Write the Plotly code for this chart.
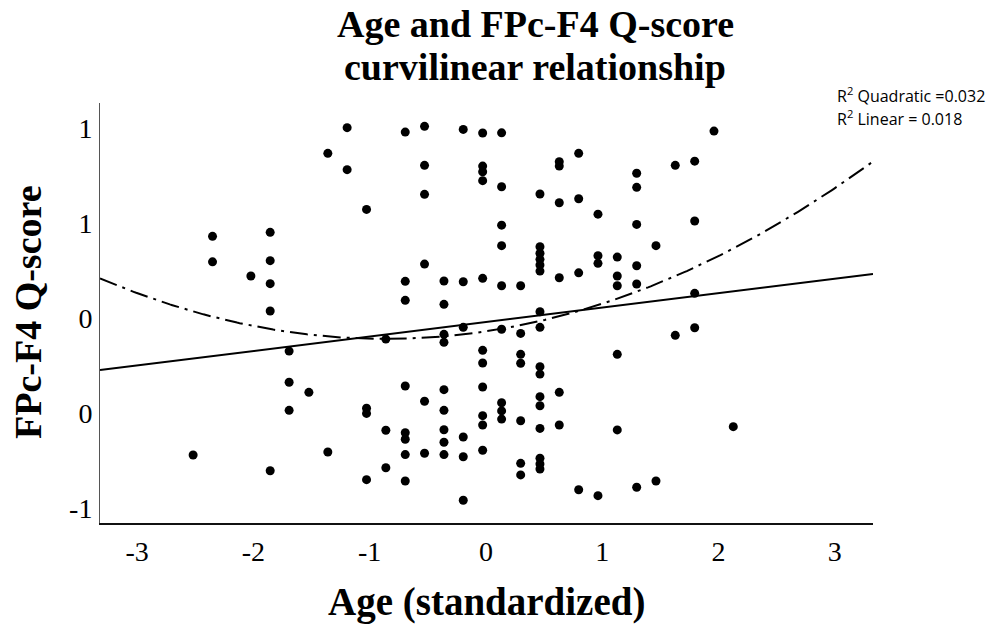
import numpy as np
import plotly.graph_objects as go

# ---- data ----
age_std = (
    [-2.519]
    + [-2.352] * 2
    + [-2.022]
    + [-1.856] * 5
    + [-1.693] * 3
    + [-1.523]
    + [-1.360] * 2
    + [-1.194] * 2
    + [-1.027] * 4
    + [-0.861] * 3
    + [-0.694] * 8
    + [-0.528] * 6
    + [-0.361] * 9
    + [-0.195] * 6
    + [-0.028] * 11
    + [0.135] * 9
    + [0.299] * 7
    + [0.465] * 16
    + [0.631] * 6
    + [0.798] * 4
    + [0.964] * 4
    + [1.130] * 5
    + [1.297] * 6
    + [1.463] * 2
    + [1.629] * 2
    + [1.796] * 4
    + [1.962]
    + [2.128]
)

fpc_f4_score = [
    -0.721,
    0.430, 0.296,
    0.221,
    0.451, 0.302, 0.181, 0.037, -0.804,
    -0.174, -0.338, -0.486,
    -0.391,
    0.867, -0.705,
    1.002, 0.781,
    0.572, -0.475, -0.502, -0.851,
    -0.111, -0.591, -0.788,
    0.979, 0.193, 0.093, -0.358, -0.604, -0.638, -0.719, -0.858,
    1.009, 0.804, 0.651, 0.284, -0.438, -0.712,
    0.195, 0.072, -0.086, -0.128, -0.377, -0.486, -0.588, -0.654, -0.719,
    0.993, 0.191, -0.049, -0.626, -0.730, -0.959,
    0.974, 0.800, 0.770, 0.723, 0.209, -0.170, -0.237, -0.363, -0.514, -0.563, -0.696,
    0.975, 0.691, 0.489, 0.381, 0.170, -0.059, -0.446, -0.489, -0.532,
    0.170, -0.081, -0.191, -0.238, -0.541, -0.765, -0.826,
    0.653, 0.375, 0.341, 0.309, 0.279, 0.247, 0.033, -0.049, -0.256, -0.295,
    -0.414, -0.462, -0.581, -0.738, -0.768, -0.795,
    0.823, 0.800, 0.607, 0.212, -0.391, -0.563,
    0.867, 0.628, 0.238, -0.904,
    0.547, 0.328, 0.288, -0.935,
    0.321, 0.221, 0.170, -0.191, -0.589,
    0.762, 0.688, 0.493, 0.275, 0.179, -0.891,
    0.381, -0.858,
    0.804, -0.091,
    0.826, 0.511, 0.130, -0.051,
    0.984,
    -0.572,
]

# fitted curves (coefficients)
linear_fit = [-0.0213, 0.0761]          # intercept, slope
quadratic_fit = [-0.070, 0.092, 0.053]  # c0, c1, c2

x_ticks = [-3, -2, -1, 0, 1, 2, 3]
x_tick_labels = ["-3", "-2", "-1", "0", "1", "2", "3"]
y_ticks = [-1.0, -0.5, 0.0, 0.5, 1.0]
y_tick_labels = ["-1", "0", "0", "1", "1"]

x_range = [-3.32, 3.33]
y_range = [-1.079, 1.132]

# ---- figure ----
xs = np.linspace(x_range[0], x_range[1], 300)
lin_y = linear_fit[0] + linear_fit[1] * xs
quad_y = quadratic_fit[0] + quadratic_fit[1] * xs + quadratic_fit[2] * xs ** 2

fig = go.Figure()
fig.add_trace(go.Scatter(
    x=xs, y=quad_y, mode="lines",
    line=dict(color="black", width=2, dash="18px,6px,3px,6px"),
    hoverinfo="skip", showlegend=False,
))
fig.add_trace(go.Scatter(
    x=xs, y=lin_y, mode="lines",
    line=dict(color="black", width=2),
    hoverinfo="skip", showlegend=False,
))
fig.add_trace(go.Scatter(
    x=age_std, y=fpc_f4_score, mode="markers",
    marker=dict(color="black", size=9),
    showlegend=False,
))

W, H = 1003, 630
L, R, T, B = 100, 873, 103, 523
pw, ph = R - L, B - T


def px_x(p):
    return (p - L) / pw


def px_y(p):
    return (B - p) / ph


serif = "Liberation Serif, Times New Roman, serif"

fig.update_layout(
    width=W, height=H,
    margin=dict(l=L, r=W - R, t=T, b=H - B),
    paper_bgcolor="white", plot_bgcolor="white",
    showlegend=False,
    xaxis=dict(
        range=x_range, tickvals=x_ticks, ticktext=x_tick_labels,
        showgrid=False, zeroline=False, showline=True,
        linecolor="#111", linewidth=2, ticks="",
        tickfont=dict(family=serif, size=28, color="black"),
        ticklabelstandoff=2,
    ),
    yaxis=dict(
        range=y_range, tickvals=y_ticks, ticktext=y_tick_labels,
        showgrid=False, zeroline=False, showline=True,
        linecolor="#555", linewidth=1, ticks="",
        tickfont=dict(family=serif, size=28, color="black"),
        ticklabelstandoff=1,
    ),
    annotations=[
        dict(text="<b>Age and FPc-F4 Q-score</b>", xref="paper", yref="paper",
             x=px_x(535), y=px_y(24), xanchor="center", yanchor="middle",
             borderpad=0,
             showarrow=False, font=dict(family=serif, size=38, color="black")),
        dict(text="<b>curvilinear relationship</b>", xref="paper", yref="paper",
             x=px_x(535), y=px_y(67), xanchor="center", yanchor="middle",
             borderpad=0,
             showarrow=False, font=dict(family=serif, size=38, color="black")),
        dict(text="<b>Age (standardized)</b>", xref="paper", yref="paper",
             x=px_x(486), y=px_y(602), xanchor="center", yanchor="middle",
             showarrow=False, font=dict(family=serif, size=39, color="black")),
        dict(text="<b>FPc-F4 Q-score</b>", xref="paper", yref="paper",
             x=px_x(28), y=px_y(312), xanchor="center", yanchor="middle",
             textangle=-90,
             showarrow=False, font=dict(family=serif, size=38, color="black")),
        dict(text="R<sup>2</sup> Quadratic =0.032", xref="paper", yref="paper",
             x=px_x(835), y=px_y(95), xanchor="left", yanchor="middle",
             showarrow=False, font=dict(family="Open Sans, sans-serif", size=16, color="black")),
        dict(text="R<sup>2</sup> Linear = 0.018", xref="paper", yref="paper",
             x=px_x(835), y=px_y(118), xanchor="left", yanchor="middle",
             showarrow=False, font=dict(family="Open Sans, sans-serif", size=16, color="black")),
    ],
)

fig.write_html("out.html")
